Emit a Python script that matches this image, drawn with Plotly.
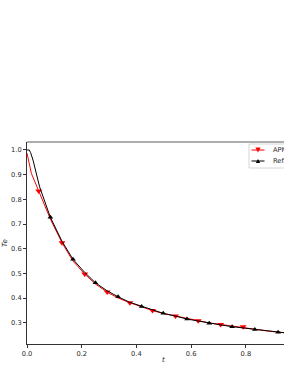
import plotly.graph_objects as go

# APM (red) line samples
apm_t = [0.0, 0.008, 0.016, 0.0428, 0.0855, 0.128, 0.168, 0.211, 0.25, 0.293, 0.333, 0.376,
         0.417, 0.459, 0.5, 0.543, 0.583, 0.626, 0.667, 0.708, 0.75, 0.79, 0.833, 0.875, 0.917, 0.958, 1.0]
apm_te = [0.987, 0.945, 0.905, 0.834, 0.72, 0.624, 0.55, 0.497, 0.457, 0.424, 0.400, 0.381,
          0.364, 0.349, 0.337, 0.327, 0.317, 0.308, 0.299, 0.293, 0.286, 0.281, 0.273, 0.267, 0.262, 0.257, 0.253]
# APM markers
apm_mt = [0.0428, 0.128, 0.211, 0.293, 0.376, 0.459, 0.543, 0.626, 0.708, 0.79]
apm_mte = [0.834, 0.624, 0.497, 0.424, 0.381, 0.349, 0.327, 0.308, 0.293, 0.284]

# Ref (black) line samples
ref_t = [0.0, 0.008, 0.013, 0.022, 0.046, 0.0855, 0.128, 0.168, 0.21, 0.25, 0.292, 0.333, 0.375,
         0.419, 0.458, 0.498, 0.542, 0.585, 0.625, 0.666, 0.708, 0.75, 0.792, 0.833, 0.875, 0.918, 0.958, 1.0]
ref_te = [1.0, 1.0, 0.99, 0.959, 0.851, 0.727, 0.63, 0.557, 0.505, 0.462, 0.43, 0.405, 0.383,
          0.366, 0.351, 0.338, 0.327, 0.315, 0.307, 0.298, 0.291, 0.284, 0.278, 0.272, 0.266, 0.261, 0.257, 0.253]
# Ref markers
ref_mt = [0.0855, 0.168, 0.25, 0.333, 0.419, 0.498, 0.585, 0.666, 0.75, 0.833, 0.918]
ref_mte = [0.727, 0.557, 0.462, 0.405, 0.366, 0.338, 0.315, 0.298, 0.284, 0.272, 0.261]

series_names = ["APM", "Ref"]
x_ticks = [0.0, 0.2, 0.4, 0.6, 0.8]
y_ticks = [0.3, 0.4, 0.5, 0.6, 0.7, 0.8, 0.9, 1.0]

RED = "#ff0000"
BLK = "#000000"
FONT = "DejaVu Sans"
TXT = "#262626"

W, H = 284, 367
ML, MR, MT, MB = 27, 0, 142, 23
PW, PH = W - ML - MR, H - MT - MB


def px(x):
    return (x - ML) / PW


def py(y):
    return (H - MB - y) / PH


fig = go.Figure()
fig.add_trace(go.Scatter(x=apm_t, y=apm_te, mode="lines", line=dict(color=RED, width=1),
                         showlegend=False, hoverinfo="skip"))
fig.add_trace(go.Scatter(x=apm_mt, y=apm_mte, mode="markers", name=series_names[0],
                         marker=dict(symbol="triangle-down", size=6, color=RED, line=dict(width=0)),
                         showlegend=False))
fig.add_trace(go.Scatter(x=ref_t, y=ref_te, mode="lines", line=dict(color=BLK, width=1),
                         showlegend=False, hoverinfo="skip"))
fig.add_trace(go.Scatter(x=ref_mt, y=ref_mte, mode="markers", name=series_names[1],
                         marker=dict(symbol="triangle-up", size=5, color=BLK, line=dict(width=0)),
                         showlegend=False))

# manual matplotlib-like legend
shapes = [
    dict(type="line", xref="paper", yref="paper", x0=0, x1=1, y0=1, y1=1,
         line=dict(color="#333", width=0.8)),
    dict(type="rect", xref="paper", yref="paper", x0=px(249), x1=px(300), y0=py(144), y1=py(168),
         fillcolor="rgba(255,255,255,0.8)", line=dict(color="#cccccc", width=0.8)),
]
annotations = []
rows = [(150, RED, "down", series_names[0]), (161, BLK, "up", series_names[1])]
for yy, col, d, name in rows:
    shapes.append(dict(type="line", xref="paper", yref="paper", x0=px(251.5), x1=px(264.5),
                       y0=py(yy), y1=py(yy), line=dict(color=col, width=1)))
    cx = 258
    if d == "down":
        hw, hh = 2.6, 2.4
        path = (f"M {px(cx - hw)},{py(yy - hh)} L {px(cx + hw)},{py(yy - hh)} "
                f"L {px(cx)},{py(yy + hh)} Z")
    else:
        hw, hh = 2.2, 2.0
        path = (f"M {px(cx - hw)},{py(yy + hh)} L {px(cx + hw)},{py(yy + hh)} "
                f"L {px(cx)},{py(yy - hh)} Z")
    shapes.append(dict(type="path", xref="paper", yref="paper", path=path,
                       fillcolor=col, line=dict(color=col, width=0)))
    annotations.append(dict(text=name, xref="paper", yref="paper", x=px(271), y=py(yy),
                            xanchor="left", yanchor="middle", showarrow=False,
                            font=dict(size=6.7, family=FONT, color=TXT)))

annotations += [
    dict(text="<i>t</i>", xref="x", yref="paper", x=0.5, y=0, yshift=-15.5,
         showarrow=False, font=dict(size=7, family=FONT, color=TXT), yanchor="middle"),
    dict(text="<i>Te</i>", xref="paper", yref="paper", x=0, xshift=-22, y=0.5,
         textangle=-90, showarrow=False, font=dict(size=7, family=FONT, color=TXT),
         xanchor="center"),
]

fig.update_layout(
    template="none",
    width=W, height=H,
    margin=dict(l=ML, r=MR, t=MT, b=MB, pad=0),
    paper_bgcolor="white", plot_bgcolor="white",
    showlegend=False,
    font=dict(family=FONT, size=7, color=TXT),
    xaxis=dict(range=[0, 0.9395], tickvals=x_ticks, ticktext=[f"{v:.1f}" for v in x_ticks],
               ticks="outside", ticklen=3, tickwidth=0.8, tickcolor="#333", automargin=False,
               showline=True, linecolor="#333", linewidth=0.8, showgrid=False, zeroline=False,
               tickfont=dict(size=6.7, family=FONT, color=TXT)),
    yaxis=dict(range=[0.2137, 1.0324], tickvals=y_ticks, ticktext=[f"{v:.1f}" for v in y_ticks],
               ticks="outside", ticklen=3, tickwidth=0.8, tickcolor="#333", automargin=False,
               showline=True, linecolor="#333", linewidth=0.8, showgrid=False, zeroline=False,
               tickfont=dict(size=6.7, family=FONT, color=TXT)),
    shapes=shapes,
    annotations=annotations,
)

fig.write_html(
    "out.html",
    config={"displayModeBar": False},
    post_script="document.body.style.margin='0';document.body.style.overflow='hidden';",
)
